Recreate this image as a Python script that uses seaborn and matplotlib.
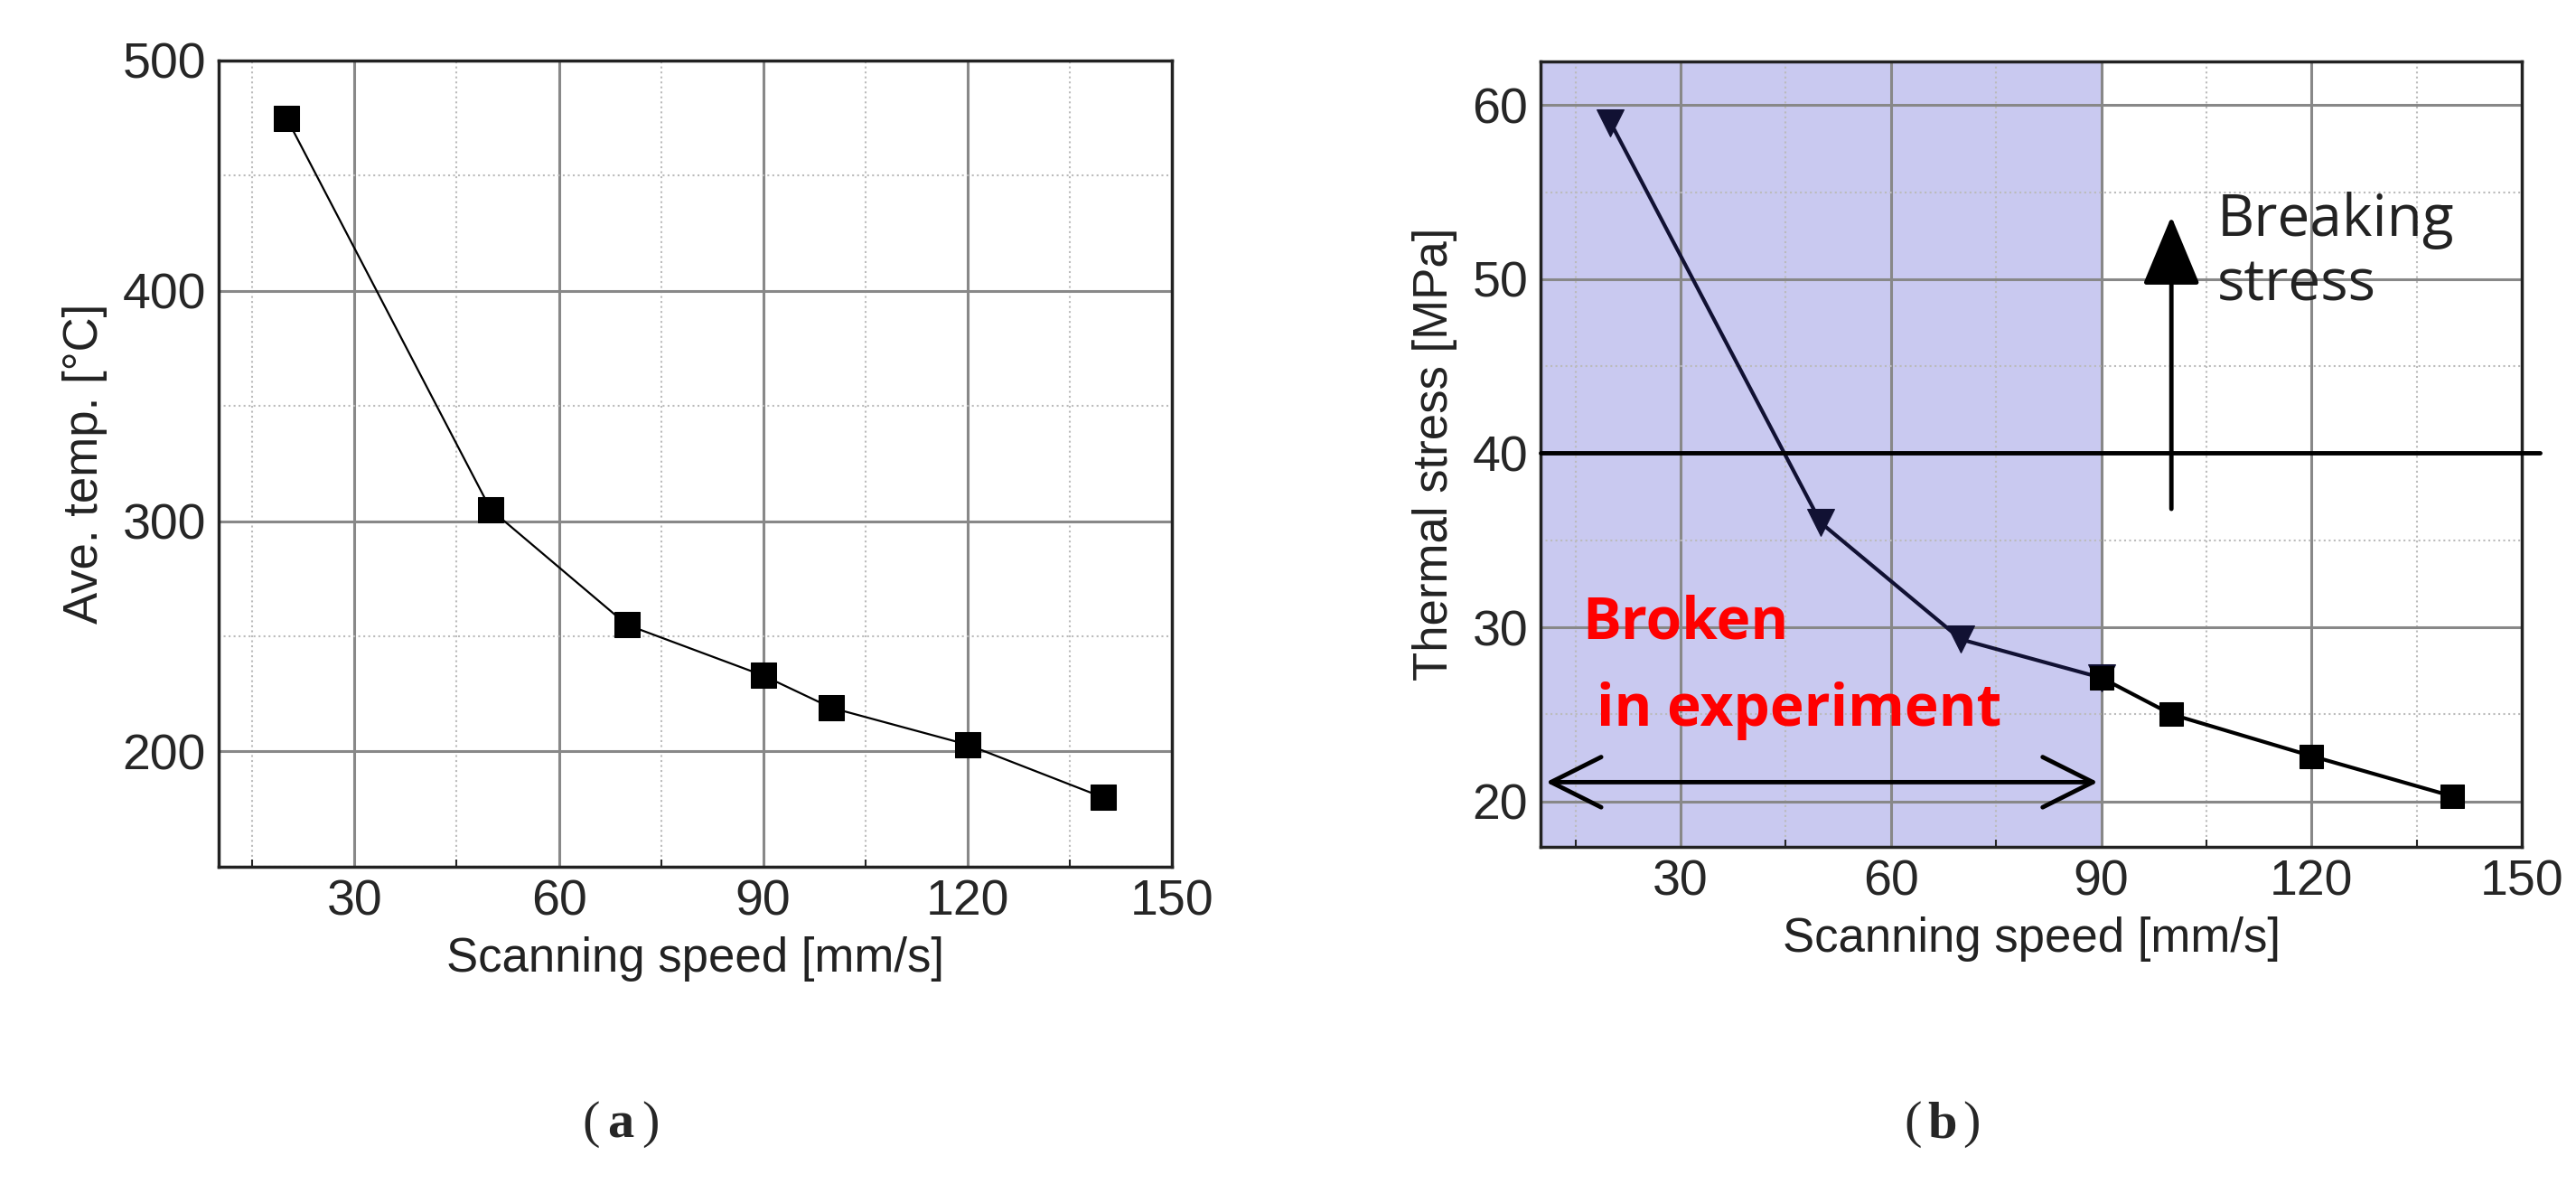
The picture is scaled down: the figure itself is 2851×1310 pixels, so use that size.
import numpy as np
import pandas as pd
import matplotlib
matplotlib.use("Agg")
import matplotlib.pyplot as plt
import seaborn as sns
from matplotlib.ticker import MultipleLocator

sns.set_style("white")
plt.rcParams['font.family'] = ['Liberation Sans', 'DejaVu Sans']

# --- data ---
speed_a = [20, 50, 70, 90, 100, 120, 140]
temp_a = [475, 305, 255, 233, 219, 203, 180]

speed_b_tri = [20, 50, 70, 90]
stress_b_tri = [59, 36, 29.3, 27.1]
speed_b_sq = [90, 100, 120, 140]
stress_b_sq = [27.1, 25, 22.6, 20.3]
breaking_stress = 40
broken_limit = 90

fig = plt.figure(figsize=(28.51, 13.1), dpi=100)
ax1 = fig.add_axes([0.0848, 0.268, 0.370, 0.681])
ax2 = fig.add_axes([0.598, 0.285, 0.381, 0.663])

def style_axes(ax):
    ax.xaxis.set_major_locator(MultipleLocator(30))
    ax.xaxis.set_minor_locator(MultipleLocator(15))
    ax.grid(which="major", color="#888888", linewidth=2.2)
    ax.grid(which="minor", color="#bbbbbb", linewidth=1.5, linestyle=":")
    ax.tick_params(axis="both", which="major", labelsize=40, length=0, pad=10)
    ax.tick_params(axis="x", which="minor", bottom=True, length=6, width=1.5, direction="in")
    for s in ax.spines.values():
        s.set_color("#222222")
        s.set_linewidth(2.5)
    ax.set_xlabel("Scanning speed [mm/s]", fontsize=38, labelpad=8, color="#222222")

# (a)
df_a = pd.DataFrame({"speed": speed_a, "temp": temp_a})
sns.lineplot(data=df_a, x="speed", y="temp", ax=ax1, color="black", linewidth=1.6,
             marker="s", markersize=20, markeredgecolor="black")
ax1.set_xlim(10, 150)
ax1.set_ylim(150, 500)
ax1.yaxis.set_major_locator(MultipleLocator(100))
ax1.yaxis.set_minor_locator(MultipleLocator(50))
style_axes(ax1)
ax1.set_ylabel("Ave. temp. [°C]", fontsize=38, labelpad=12, color="#222222")

# (b)
ax2.axvspan(10, broken_limit, color="#c9c9f0", zorder=0)
df_tri = pd.DataFrame({"speed": speed_b_tri, "stress": stress_b_tri})
df_sq = pd.DataFrame({"speed": speed_b_sq, "stress": stress_b_sq})
sns.lineplot(data=df_tri, x="speed", y="stress", ax=ax2, color="#111133", linewidth=3,
             marker="v", markersize=22, markeredgecolor="#111133")
sns.lineplot(data=df_sq, x="speed", y="stress", ax=ax2, color="black", linewidth=3,
             marker="s", markersize=19, markeredgecolor="black")
ax2.set_xlim(10, 150)
ax2.set_ylim(17.4, 62.5)
ax2.yaxis.set_major_locator(MultipleLocator(10))
ax2.yaxis.set_minor_locator(MultipleLocator(5))
style_axes(ax2)
ax2.set_ylabel("Thermal stress [MPa]", fontsize=38, labelpad=12, color="#222222")
ax2.plot([10, 152.5], [breaking_stress] * 2, color="black", linewidth=3.5, clip_on=False, zorder=3)
ax2.annotate("", xy=(100, 53.6), xytext=(100, 36.8),
             arrowprops=dict(arrowstyle="-|>,head_width=0.5,head_length=1.2", color="black",
                             lw=3.5, shrinkA=0, shrinkB=0, mutation_scale=40))
ax2.text(106.5, 51.5, "Breaking\nstress", fontsize=46, family=["Open Sans", "DejaVu Sans"],
         color="#222222", va="center", ha="left", linespacing=1.15)
ax2.annotate("", xy=(10.8, 21.1), xytext=(89.5, 21.1),
             arrowprops=dict(arrowstyle="<->,head_width=0.5,head_length=1.0", color="black",
                             lw=3.5, shrinkA=0, shrinkB=0, mutation_scale=40))
ax2.text(16, 30.2, "Broken", fontsize=46, fontweight="bold", color="#ff0000",
         family=["Open Sans", "DejaVu Sans"], va="center", ha="left")
ax2.text(18, 25.2, "in experiment", fontsize=46, fontweight="bold", color="#ff0000",
         family=["Open Sans", "DejaVu Sans"], va="center", ha="left")

# panel tags
for xpos, tag in [(0.241, "a"), (0.754, "b")]:
    fig.text(xpos - 0.008, 0.05, "(", fontsize=42, family=["Liberation Serif", "DejaVu Serif"], ha="right", va="center")
    fig.text(xpos, 0.05, tag, fontsize=42, fontweight="bold", family=["Liberation Serif", "DejaVu Serif"], ha="center", va="center")
    fig.text(xpos + 0.008, 0.05, ")", fontsize=42, family=["Liberation Serif", "DejaVu Serif"], ha="left", va="center")

fig.savefig("out.png", dpi=100, facecolor="white")
